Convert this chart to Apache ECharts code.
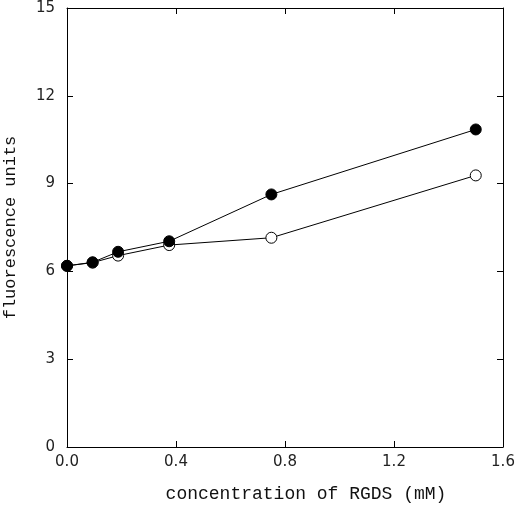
<!DOCTYPE html>
<html>
<head>
<meta charset="utf-8">
<script src="https://cdn.jsdelivr.net/npm/echarts@6/dist/echarts.min.js"></script>
<style>
  html, body { margin: 0; padding: 0; background: #fff; }
  #chart { width: 520px; height: 510px; }
</style>
</head>
<body>
<div id="chart"></div>
<script>
// RGDS concentration (mM)
var conc = [0, 0.094, 0.1875, 0.375, 0.75, 1.5];
// filled circles
var filled = [6.19, 6.31, 6.67, 7.03, 8.63, 10.85];
// open circles
var open = [6.19, 6.30, 6.54, 6.90, 7.15, 9.28];

var xTicks = ['0.0', '0.4', '0.8', '1.2', '1.6'];
var yTicks = ['0', '3', '6', '9', '12', '15'];

function pairs(xs, ys) {
  return xs.map(function (x, i) { return [x, ys[i]]; });
}

var chart = echarts.init(document.getElementById('chart'));

var tickFont = { color: '#222', fontFamily: 'DejaVu Sans', fontSize: 15 };
var lineStyle = { color: '#000', width: 1 };

var option = {
  animation: false,
  grid: { left: 67, right: 17, top: 8, bottom: 63, containLabel: false, outerBoundsMode: 'none' },
  xAxis: [
    {
      type: 'value', min: 0, max: 1.6, interval: 0.4, position: 'bottom',
      name: 'concentration of RGDS (mM)', nameLocation: 'middle', nameGap: 38,
      nameTextStyle: { fontFamily: 'Liberation Mono', fontSize: 18, color: '#111', padding: [0, 0, 0, 42] },
      axisLine: { onZero: false, lineStyle: lineStyle },
      axisTick: { inside: true, length: 6, lineStyle: lineStyle },
      axisLabel: Object.assign({ margin: 8, formatter: function (v) { return xTicks[Math.round(v / 0.4)]; } }, tickFont),
      splitLine: { show: false }
    },
    {
      type: 'value', min: 0, max: 1.6, interval: 0.4, position: 'top',
      axisLine: { onZero: false, lineStyle: lineStyle },
      axisTick: { inside: true, length: 6, lineStyle: lineStyle },
      axisLabel: { show: false },
      splitLine: { show: false }
    }
  ],
  yAxis: [
    {
      type: 'value', min: 0, max: 15, interval: 3, position: 'left',
      name: 'fluorescence units', nameLocation: 'middle', nameGap: 48,
      nameTextStyle: { fontFamily: 'Liberation Mono', fontSize: 17, color: '#111' },
      axisLine: { show: true, onZero: false, lineStyle: lineStyle },
      axisTick: { show: true, inside: true, length: 6, lineStyle: lineStyle },
      axisLabel: Object.assign({ margin: 12, formatter: function (v) { return yTicks[Math.round(v / 3)]; } }, tickFont),
      splitLine: { show: false }
    },
    {
      type: 'value', min: 0, max: 15, interval: 3, position: 'right',
      axisLine: { show: true, onZero: false, lineStyle: lineStyle },
      axisTick: { show: true, inside: true, length: 6, lineStyle: lineStyle },
      axisLabel: { show: false },
      splitLine: { show: false }
    }
  ],
  series: [
    {
      type: 'line', data: pairs(conc, open),
      symbol: 'circle', symbolSize: 11,
      lineStyle: lineStyle,
      itemStyle: { color: '#fff', borderColor: '#000', borderWidth: 1 },
      z: 2
    },
    {
      type: 'line', data: pairs(conc, filled),
      symbol: 'circle', symbolSize: 11,
      lineStyle: lineStyle,
      itemStyle: { color: '#000', borderColor: '#000', borderWidth: 1 },
      z: 3
    }
  ]
};

chart.setOption(option);
</script>
</body>
</html>
